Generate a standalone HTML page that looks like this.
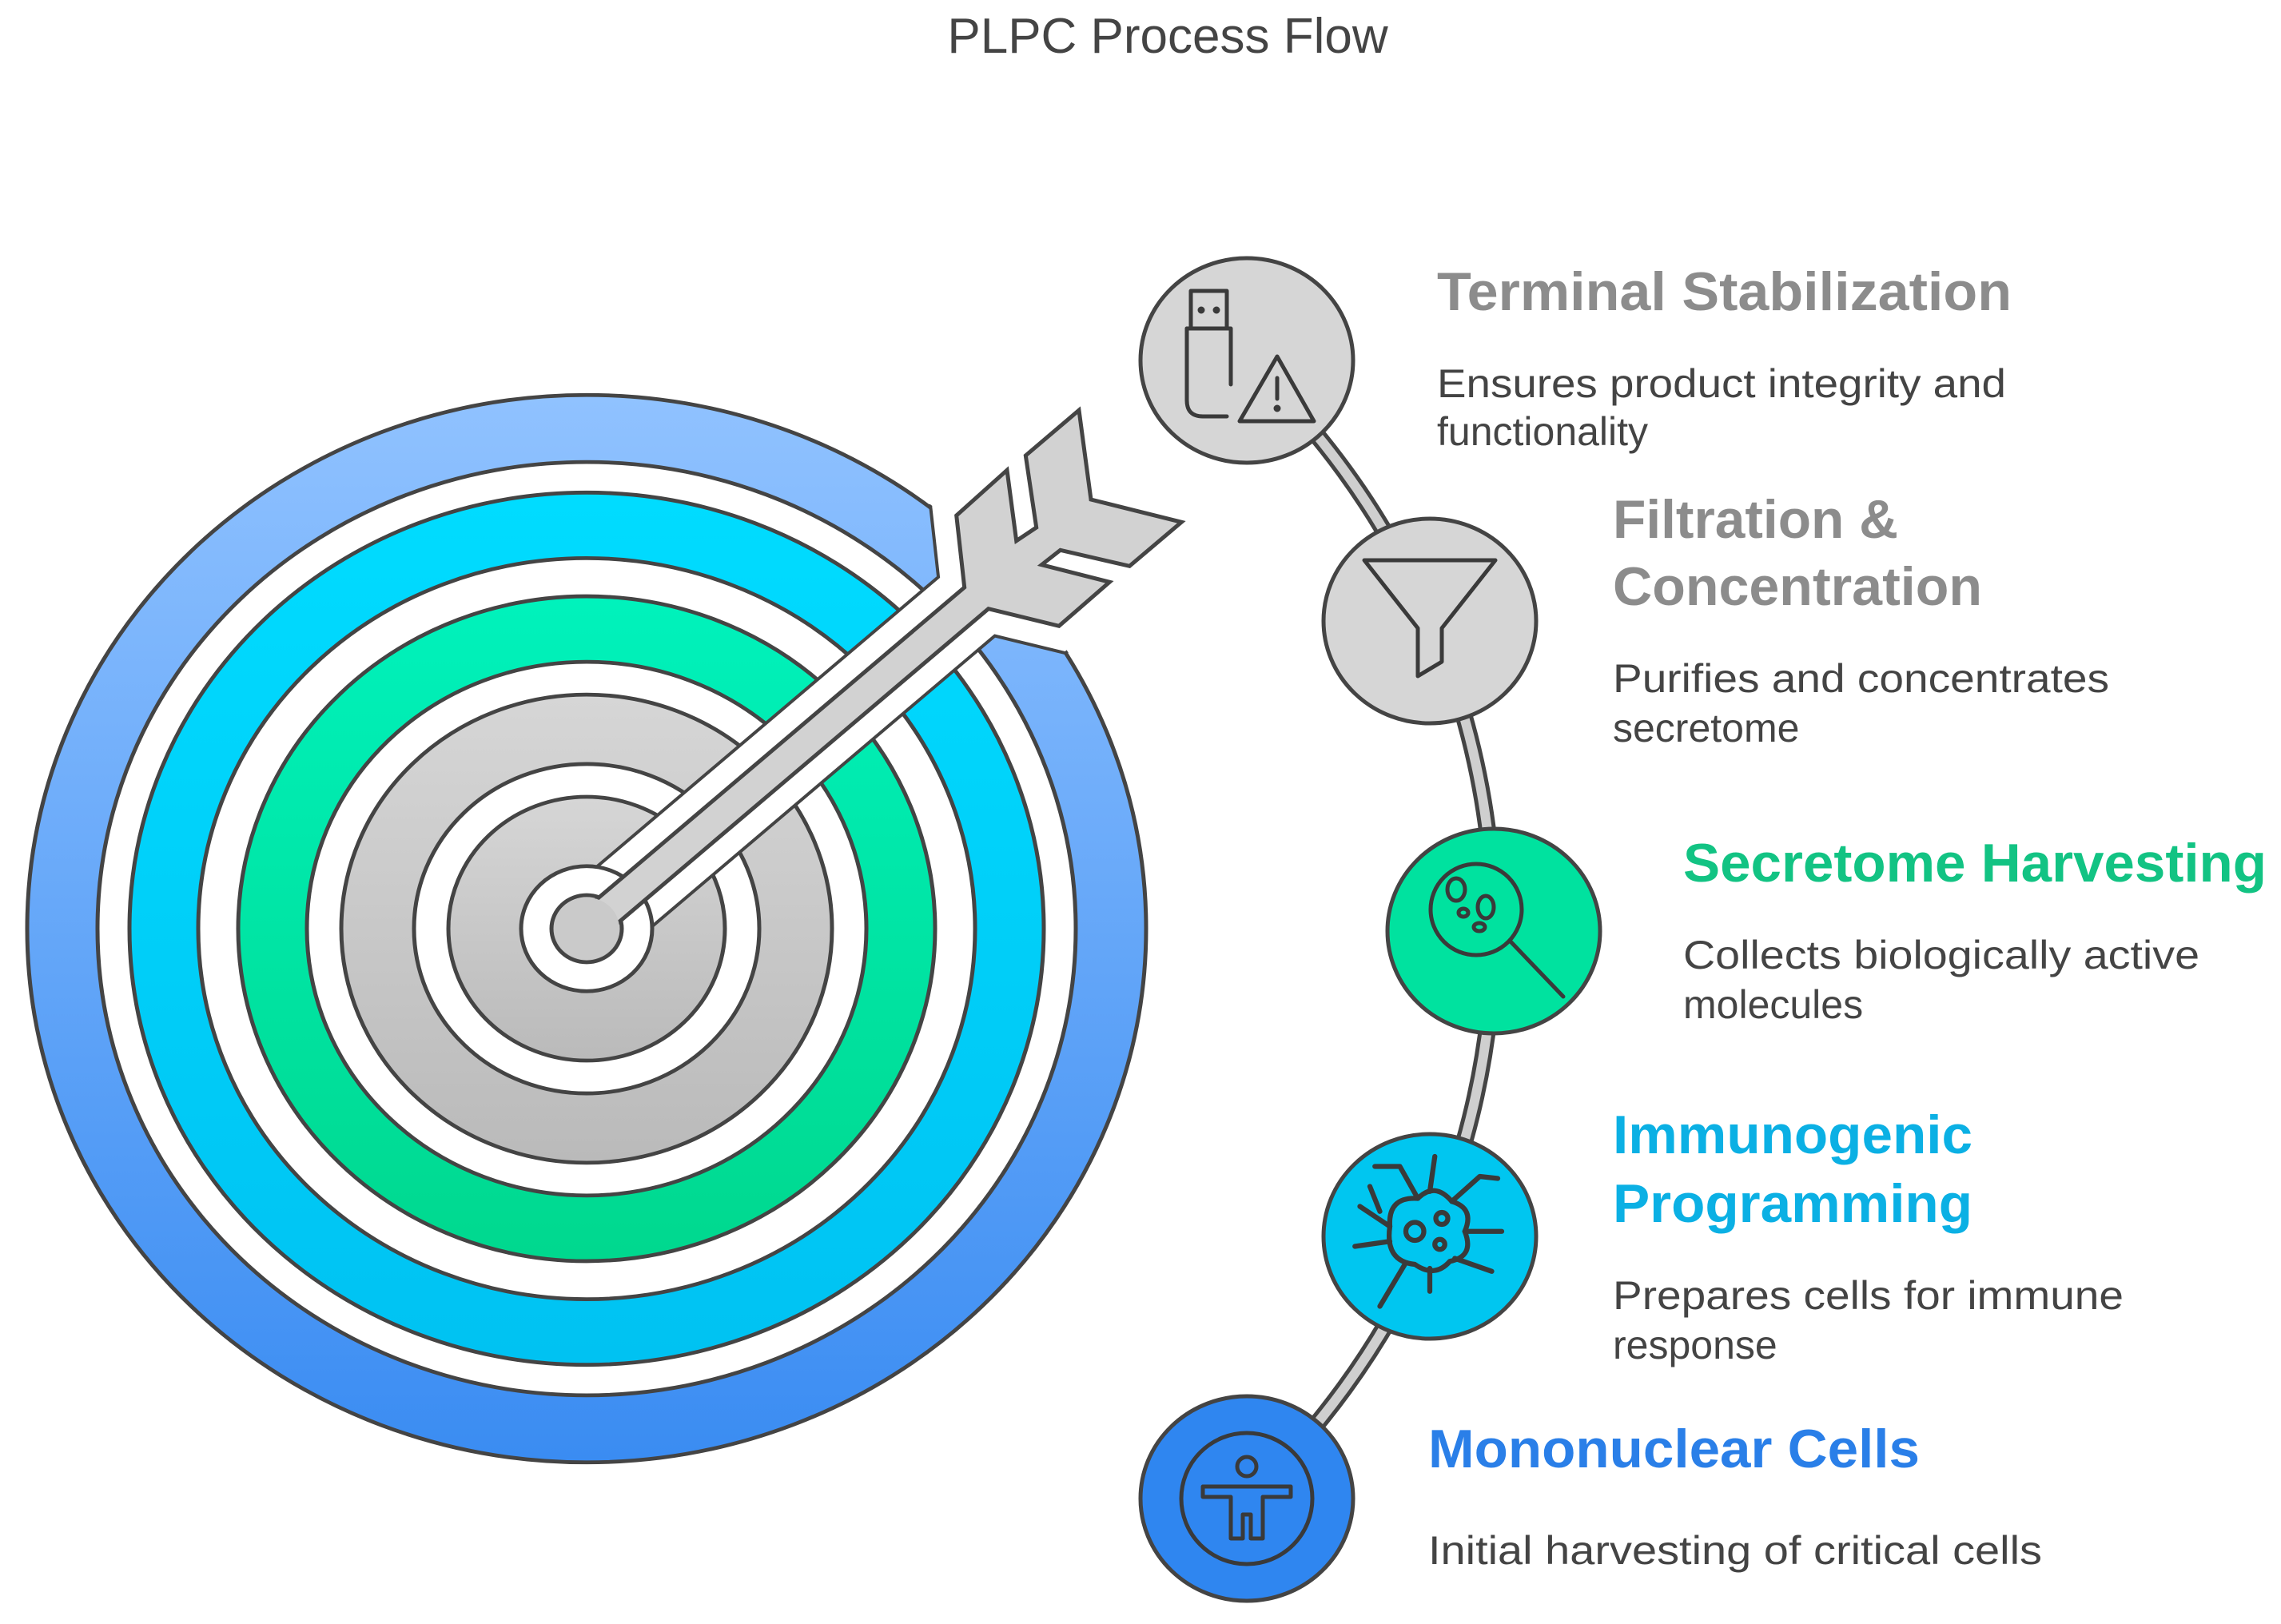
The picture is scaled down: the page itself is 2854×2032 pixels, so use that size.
<!DOCTYPE html>
<html><head><meta charset="utf-8"><style>
html,body{margin:0;padding:0;background:#fff;}
svg{display:block;}
text{font-family:"Liberation Sans",Arial,sans-serif;}
</style></head><body>
<svg width="2854" height="2032" viewBox="0 0 2854 2032" xmlns="http://www.w3.org/2000/svg">
<defs>
<linearGradient id="gb" x1="0" y1="0" x2="0" y2="1"><stop offset="0" stop-color="#90c2ff"/><stop offset="1" stop-color="#3a8cf2"/></linearGradient>
<linearGradient id="gc" x1="0" y1="0" x2="0" y2="1"><stop offset="0" stop-color="#00dcff"/><stop offset="1" stop-color="#00c2f2"/></linearGradient>
<linearGradient id="gg" x1="0" y1="0" x2="0" y2="1"><stop offset="0" stop-color="#00f2bc"/><stop offset="1" stop-color="#00d88e"/></linearGradient>
<linearGradient id="gy" x1="0" y1="0" x2="0" y2="1"><stop offset="0" stop-color="#d6d6d6"/><stop offset="1" stop-color="#bababa"/></linearGradient>
<clipPath id="tc"><ellipse cx="734" cy="1162" rx="703" ry="671"/></clipPath>
</defs>

<text x="1461" y="66" font-size="62" fill="#444" text-anchor="middle">PLPC Process Flow</text>

<!-- target -->
<g transform="translate(734,1162) scale(1,0.954)" stroke="#444" stroke-width="5">
<circle r="700" fill="url(#gb)"/>
<circle r="612" fill="#fff"/>
<circle r="572" fill="url(#gc)"/>
<circle r="486" fill="#fff"/>
<circle r="436" fill="url(#gg)"/>
<circle r="350" fill="#fff"/>
<circle r="307" fill="url(#gy)"/>
<circle r="216" fill="#fff"/>
<circle r="173" fill="url(#gy)"/>
</g>

<!-- arrow clearance -->
<g clip-path="url(#tc)">
<polygon points="721,1147 1206.7,735 1196.7,645 1260,588.3 1271.7,676.7 1296.7,660 1283.3,570 1350,513.3 1365,625 1478.3,653.3 1413.3,708.3 1326.7,688.3 1303.3,706.7 1388.3,728.3 1325,783.3 1236.7,761.7 747,1177" fill="#444" stroke="#444" stroke-width="66" stroke-linejoin="miter"/>
</g>
<polygon points="721,1147 1206.7,735 1196.7,645 1260,588.3 1271.7,676.7 1296.7,660 1283.3,570 1350,513.3 1365,625 1478.3,653.3 1413.3,708.3 1326.7,688.3 1303.3,706.7 1388.3,728.3 1325,783.3 1236.7,761.7 747,1177" fill="#fff" stroke="#fff" stroke-width="58" stroke-linejoin="miter"/>

<g transform="translate(734,1162) scale(1,0.954)">
<circle r="82" fill="#fff" stroke="#444" stroke-width="5"/>
<circle r="44" fill="url(#gy)" stroke="#444" stroke-width="5"/>
</g>

<!-- arrow -->
<polygon points="721,1147 1206.7,735 1196.7,645 1260,588.3 1271.7,676.7 1296.7,660 1283.3,570 1350,513.3 1365,625 1478.3,653.3 1413.3,708.3 1326.7,688.3 1303.3,706.7 1388.3,728.3 1325,783.3 1236.7,761.7 747,1177" fill="#d2d2d2" stroke="#444" stroke-width="5" stroke-linejoin="miter"/>
<ellipse cx="734" cy="1162" rx="41" ry="39" fill="#cacaca"/>

<!-- connector arc -->
<path d="M1560,451 A975,975 0 0 1 1560,1875" fill="none" stroke="#444" stroke-width="22"/>
<path d="M1560,451 A975,975 0 0 1 1560,1875" fill="none" stroke="#cfcfcf" stroke-width="12"/>

<!-- nodes -->
<g stroke="#444" stroke-width="5">
<ellipse cx="1560" cy="451" rx="133" ry="128" fill="#d6d6d6"/>
<ellipse cx="1789" cy="777" rx="133" ry="128" fill="#d6d6d6"/>
<ellipse cx="1869" cy="1165" rx="133" ry="128" fill="#00e29f"/>
<ellipse cx="1789" cy="1547" rx="133" ry="128" fill="#00c6f0"/>
<ellipse cx="1560" cy="1875" rx="133" ry="128" fill="#2f86f0"/>
</g>

<!-- icons -->
<g fill="none" stroke="#3a3a3a" stroke-width="5" stroke-linejoin="round" stroke-linecap="round">
<g transform="translate(1560,451)">
<path d="M-75,-40 L-75,50 Q-75,70 -55,70 L-25,70"/>
<path d="M-75,-40 L-20,-40 L-20,30"/>
<rect x="-70" y="-87" width="45" height="47"/>
<circle cx="-57" cy="-63" r="2" fill="#3a3a3a"/><circle cx="-38" cy="-63" r="2" fill="#3a3a3a"/>
<path d="M38,-5 L-9,76 L84,76 Z"/>
<line x1="38" y1="22" x2="38" y2="48"/><circle cx="38" cy="60" r="2" fill="#3a3a3a"/>
</g>
<g transform="translate(1789,777)">
<path d="M-82,-76 L82,-76 L15,9 L15,51 L-15,69 L-15,9 Z"/>
</g>
<g transform="translate(1869,1165)">
<circle cx="-22" cy="-27" r="57"/>
<line x1="20" y1="12" x2="87" y2="82"/>
<ellipse cx="-47" cy="-52" rx="11" ry="14"/>
<ellipse cx="-10" cy="-30" rx="10" ry="14"/>
<ellipse cx="-38" cy="-23" rx="6" ry="5"/>
<ellipse cx="-18" cy="-5" rx="7" ry="5"/>
</g>
<g transform="translate(1789,1547) scale(1.25)">
<path d="M-40,-10 Q-42,-40 -12,-38 Q5,-55 22,-35 Q45,-28 35,-5 Q45,20 20,25 Q5,42 -15,28 Q-45,25 -40,-10 Z"/>
<circle cx="-15" cy="-5" r="9"/><circle cx="12" cy="-18" r="6"/><circle cx="10" cy="8" r="5"/>
<path d="M-40,-10 L-70,-30 M-40,5 L-75,10 M-25,28 L-50,70 M0,32 L0,55 M25,22 L62,35 M35,-5 L72,-5 M22,-35 L50,-60 L68,-58 M0,-45 L5,-80 M-12,-38 L-30,-70 L-55,-70 M-50,-25 L-60,-50"/>
</g>
<g transform="translate(1560,1875)">
<circle r="82"/>
<circle cx="0" cy="-40" r="12"/>
<path d="M-55,-15 L55,-15 M-55,-15 L-55,-2 L-20,-2 L-20,50 L-5,50 L-5,20 L5,20 L5,50 L20,50 L20,-2 L55,-2 L55,-15"/>
</g>
</g>

<!-- text -->
<g font-weight="bold">
<text x="1798" y="388" font-size="68" fill="#8c8c8c" textLength="719" lengthAdjust="spacingAndGlyphs">Terminal Stabilization</text>
<text x="2018" y="673" font-size="68" fill="#8c8c8c" textLength="357" lengthAdjust="spacingAndGlyphs">Filtration &amp;</text>
<text x="2018" y="757" font-size="68" fill="#8c8c8c" textLength="462" lengthAdjust="spacingAndGlyphs">Concentration</text>
<text x="2106" y="1103" font-size="68" fill="#12c383" textLength="730" lengthAdjust="spacingAndGlyphs">Secretome Harvesting</text>
<text x="2018" y="1443" font-size="68" fill="#0bb0e4" textLength="450" lengthAdjust="spacingAndGlyphs">Immunogenic</text>
<text x="2018" y="1529" font-size="68" fill="#0bb0e4" textLength="450" lengthAdjust="spacingAndGlyphs">Programming</text>
<text x="1787" y="1836" font-size="68" fill="#2a7fe8" textLength="615" lengthAdjust="spacingAndGlyphs">Mononuclear Cells</text>
</g>
<g font-size="50" fill="#444">
<text x="1798" y="497" textLength="712" lengthAdjust="spacingAndGlyphs">Ensures product integrity and</text>
<text x="1798" y="557">functionality</text>
<text x="2018" y="866" textLength="621" lengthAdjust="spacingAndGlyphs">Purifies and concentrates</text>
<text x="2018" y="928">secretome</text>
<text x="2106" y="1212" textLength="646" lengthAdjust="spacingAndGlyphs">Collects biologically active</text>
<text x="2106" y="1274">molecules</text>
<text x="2018" y="1638" textLength="639" lengthAdjust="spacingAndGlyphs">Prepares cells for immune</text>
<text x="2018" y="1700">response</text>
<text x="1787" y="1957" textLength="768" lengthAdjust="spacingAndGlyphs">Initial harvesting of critical cells</text>
</g>
</svg>
</body></html>
